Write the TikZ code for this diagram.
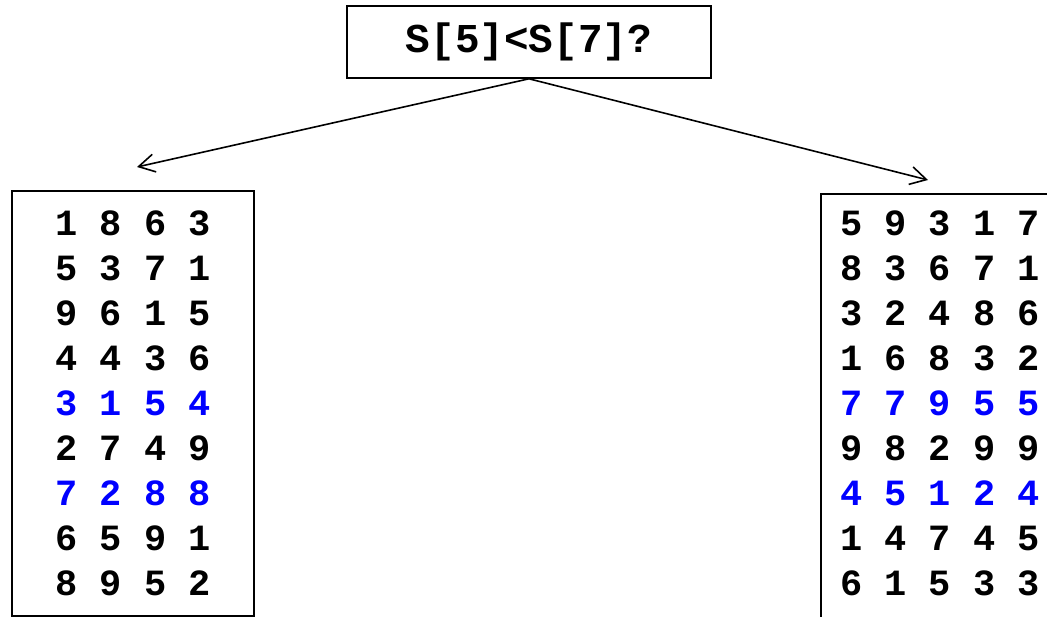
\documentclass[tikz,border=0pt]{standalone}
\usepackage{fontspec}
\setmonofont{Liberation Mono}
\usetikzlibrary{arrows.meta}
\definecolor{rowblue}{RGB}{0,0,255}
\begin{document}
\begin{tikzpicture}[x=1pt,y=-1pt,
  frame/.style={draw=black,line width=1.6pt,rectangle,inner sep=0pt},
  nums/.style={align=center,font=\ttfamily\bfseries\fontsize{37}{45}\selectfont,inner sep=0pt},
  link/.style={line width=1.6pt,-{Straight Barb[length=16pt,width=18pt,line width=1.6pt]}}]
  \useasboundingbox (0,0) rectangle (1047,617);
  \clip (0,0) rectangle (1047,617);

  % question node
  \node[frame,minimum width=364pt,minimum height=72pt,
        font=\ttfamily\bfseries\fontsize{41}{45}\selectfont] (q) at (529,42) {S[5]<S[7]?};

  % left outcome
  \node[frame,minimum width=242pt,minimum height=425pt] (lbox) at (133,403.5) {};
  \node[nums] (ltxt) at (133,403) {1 8 6 3\\5 3 7 1\\9 6 1 5\\4 4 3 6\\
    \textcolor{rowblue}{3 1 5 4}\\2 7 4 9\\\textcolor{rowblue}{7 2 8 8}\\6 5 9 1\\8 9 5 2};

  % right outcome (runs past the edge)
  \node[frame,minimum width=240pt,minimum height=460pt,anchor=north west] (rbox) at (820,193) {};
  \node[nums] (rtxt) at (940,403) {5 9 3 1 7\\8 3 6 7 1\\3 2 4 8 6\\1 6 8 3 2\\
    \textcolor{rowblue}{7 7 9 5 5}\\9 8 2 9 9\\\textcolor{rowblue}{4 5 1 2 4}\\1 4 7 4 5\\6 1 5 3 3};

  \coordinate (ltip) at (137,167);
  \coordinate (rtip) at (928,180);
  \draw[link] (q.south) -- (ltip);
  \draw[link] (q.south) -- (rtip);
\end{tikzpicture}
\end{document}
